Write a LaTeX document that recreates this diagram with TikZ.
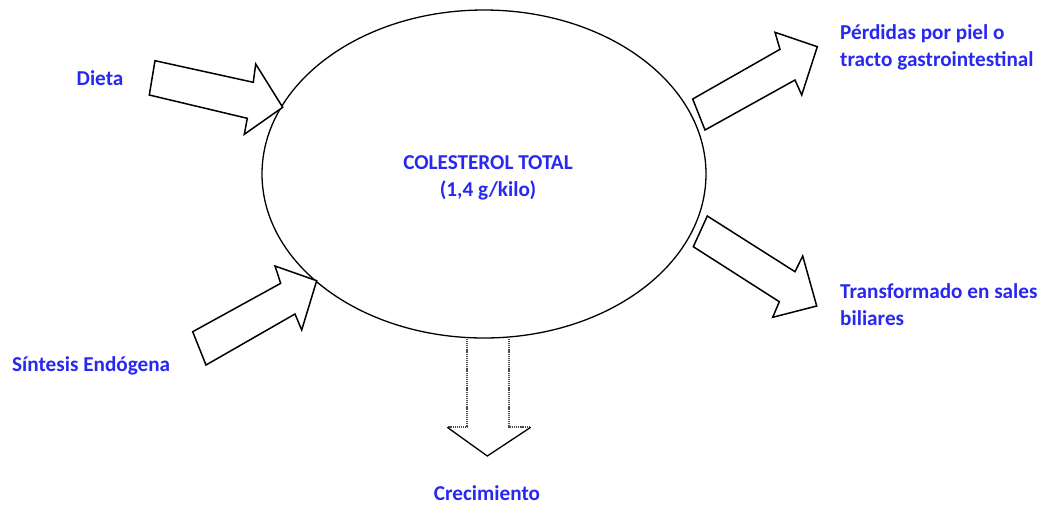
\documentclass[tikz,border=0pt]{standalone}
\usepackage{fontspec}
\setmainfont{Carlito}
\usetikzlibrary{shapes.geometric}
\definecolor{lblblue}{RGB}{40,40,240}
\tikzset{
  lbl/.style={text=lblblue, font=\fontsize{21.2}{26.8}\selectfont\bfseries, inner sep=0pt},
  blockarrow/.style={draw=black, line width=1.5pt, line join=miter, fill=white},
  dottedarrow/.style={draw=black!70, line width=1.9pt, dash pattern=on 1.1pt off 0.8pt},
}
\begin{document}
\begin{tikzpicture}[x=1pt,y=-1pt]
\useasboundingbox (0,0) rectangle (1051,507);
% central ellipse
\node[ellipse, draw, line width=1.3pt, minimum width=444pt, minimum height=328pt, inner sep=0pt] (chol) at (484,174) {};
\node[lbl, align=center] (cholt) at (488,178) {COLESTEROL TOTAL\\(1,4 g/kilo)};
% input arrows
\draw[blockarrow] (155,60.7) -- (253.3,82.3) -- (255.7,64) -- (282.7,107.3) -- (244.3,134.3) -- (247.3,118.3) -- (149.3,95) -- cycle;
\draw[blockarrow] (192.7,331.7) -- (280.7,283.3) -- (275,266) -- (316.7,280.7) -- (301.7,330) -- (295,314) -- (206,365) -- cycle;
% output arrows
\draw[blockarrow] (692.7,99) -- (780,49.3) -- (775,32.3) -- (817.3,46.7) -- (801.7,95) -- (795,80) -- (705,130) -- cycle;
\draw[blockarrow] (707.3,216) -- (795,271.7) -- (802.7,256) -- (816.7,306) -- (772.7,317.3) -- (779.3,301.7) -- (693.3,246.7) -- cycle;
% bottom dotted arrow
\draw[dottedarrow] (466.7,339) -- (466.7,427.3) -- (447.3,427.3);
\draw[dottedarrow] (509,339) -- (509,427.3) -- (530.7,427.3);
\draw[line width=1.3pt] (447.3,427.3) -- (487.3,456) -- (530.7,427.3);
% labels
\node[lbl] (dieta) at (100,78) {Dieta};
\node[lbl, anchor=west] (sint) at (12,366) {Síntesis Endógena};
\node[lbl, anchor=west, align=left] (perd) at (840,47) {Pérdidas por piel o\\tracto gastrointestinal};
\node[lbl, anchor=west, align=left] (trans) at (840,305) {Transformado en sales\\biliares};
\node[lbl] (crec) at (487,493) {Crecimiento};
\end{tikzpicture}
\end{document}
